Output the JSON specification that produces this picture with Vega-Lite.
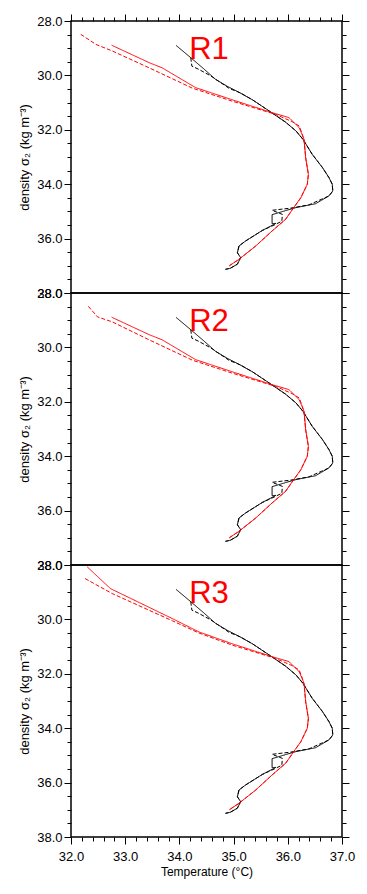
{
"$schema": "https://vega.github.io/schema/vega-lite/v6.json",
"padding": {"left": 17, "top": 12, "right": 5, "bottom": 5},
"spacing": 0,
"bounds": "flush",
"datasets": {
"lines": [
{"p":"all","c":"k","d":"solid","i":0,"T":33.94,"s":28.90},
{"p":"all","c":"k","d":"solid","i":1,"T":34.21,"s":29.35},
{"p":"all","c":"k","d":"solid","i":2,"T":34.45,"s":29.76},
{"p":"all","c":"k","d":"solid","i":3,"T":34.67,"s":30.15},
{"p":"all","c":"k","d":"solid","i":4,"T":34.90,"s":30.42},
{"p":"all","c":"k","d":"solid","i":5,"T":35.10,"s":30.62},
{"p":"all","c":"k","d":"solid","i":6,"T":35.35,"s":30.90},
{"p":"all","c":"k","d":"solid","i":7,"T":35.71,"s":31.38},
{"p":"all","c":"k","d":"solid","i":8,"T":35.96,"s":31.72},
{"p":"all","c":"k","d":"solid","i":9,"T":36.15,"s":32.04},
{"p":"all","c":"k","d":"solid","i":10,"T":36.28,"s":32.35},
{"p":"all","c":"k","d":"solid","i":11,"T":36.45,"s":32.90},
{"p":"all","c":"k","d":"solid","i":12,"T":36.64,"s":33.39},
{"p":"all","c":"k","d":"solid","i":13,"T":36.76,"s":33.76},
{"p":"all","c":"k","d":"solid","i":14,"T":36.82,"s":34.00},
{"p":"all","c":"k","d":"solid","i":15,"T":36.83,"s":34.25},
{"p":"all","c":"k","d":"solid","i":16,"T":36.76,"s":34.43},
{"p":"all","c":"k","d":"solid","i":17,"T":36.51,"s":34.72},
{"p":"all","c":"k","d":"solid","i":18,"T":36.15,"s":34.86},
{"p":"all","c":"k","d":"solid","i":19,"T":35.96,"s":34.97},
{"p":"all","c":"k","d":"solid","i":20,"T":35.71,"s":35.12},
{"p":"all","c":"k","d":"solid","i":21,"T":35.71,"s":35.45},
{"p":"all","c":"k","d":"solid","i":22,"T":35.78,"s":35.44},
{"p":"all","c":"k","d":"solid","i":23,"T":35.53,"s":35.70},
{"p":"all","c":"k","d":"solid","i":24,"T":35.22,"s":36.09},
{"p":"all","c":"k","d":"solid","i":25,"T":35.10,"s":36.27},
{"p":"all","c":"k","d":"solid","i":26,"T":35.07,"s":36.52},
{"p":"all","c":"k","d":"solid","i":27,"T":35.13,"s":36.70},
{"p":"all","c":"k","d":"solid","i":28,"T":35.07,"s":36.94},
{"p":"all","c":"k","d":"solid","i":29,"T":34.94,"s":37.09},
{"p":"all","c":"k","d":"solid","i":30,"T":34.85,"s":37.13},
{"p":"all","c":"k","d":"dash","i":0,"T":34.21,"s":29.35},
{"p":"all","c":"k","d":"dash","i":1,"T":34.23,"s":29.66},
{"p":"all","c":"k","d":"dash","i":2,"T":34.36,"s":29.78},
{"p":"all","c":"k","d":"dash","i":3,"T":34.58,"s":30.02},
{"p":"all","c":"k","d":"dash","i":4,"T":34.92,"s":30.48},
{"p":"all","c":"k","d":"dash","i":5,"T":35.12,"s":30.64},
{"p":"all","c":"k","d":"dash","i":6,"T":35.35,"s":30.90},
{"p":"all","c":"k","d":"dash","i":7,"T":35.71,"s":31.38},
{"p":"all","c":"k","d":"dash","i":8,"T":35.96,"s":31.72},
{"p":"all","c":"k","d":"dash","i":9,"T":36.15,"s":32.04},
{"p":"all","c":"k","d":"dash","i":10,"T":36.28,"s":32.35},
{"p":"all","c":"k","d":"dash","i":11,"T":36.45,"s":32.90},
{"p":"all","c":"k","d":"dash","i":12,"T":36.64,"s":33.39},
{"p":"all","c":"k","d":"dash","i":13,"T":36.76,"s":33.76},
{"p":"all","c":"k","d":"dash","i":14,"T":36.82,"s":34.00},
{"p":"all","c":"k","d":"dash","i":15,"T":36.83,"s":34.25},
{"p":"all","c":"k","d":"dash","i":16,"T":36.76,"s":34.43},
{"p":"all","c":"k","d":"dash","i":17,"T":36.39,"s":34.76},
{"p":"all","c":"k","d":"dash","i":18,"T":36.05,"s":34.88},
{"p":"all","c":"k","d":"dash","i":19,"T":35.71,"s":34.96},
{"p":"all","c":"k","d":"dash","i":20,"T":35.90,"s":35.11},
{"p":"all","c":"k","d":"dash","i":21,"T":35.89,"s":35.36},
{"p":"all","c":"k","d":"dash","i":22,"T":35.75,"s":35.50},
{"p":"all","c":"k","d":"dash","i":23,"T":35.53,"s":35.70},
{"p":"all","c":"k","d":"dash","i":24,"T":35.22,"s":36.09},
{"p":"all","c":"k","d":"dash","i":25,"T":35.10,"s":36.27},
{"p":"all","c":"k","d":"dash","i":26,"T":35.07,"s":36.52},
{"p":"all","c":"k","d":"dash","i":27,"T":35.13,"s":36.70},
{"p":"all","c":"k","d":"dash","i":28,"T":35.07,"s":36.94},
{"p":"all","c":"k","d":"dash","i":29,"T":34.94,"s":37.09},
{"p":"all","c":"k","d":"dash","i":30,"T":34.85,"s":37.13},

{"p":"1","c":"r","d":"solid","i":0,"T":32.75,"s":28.89},
{"p":"1","c":"r","d":"solid","i":1,"T":33.44,"s":29.53},
{"p":"1","c":"r","d":"solid","i":2,"T":33.68,"s":29.72},
{"p":"1","c":"r","d":"solid","i":3,"T":34.30,"s":30.45},
{"p":"1","c":"r","d":"solid","i":4,"T":34.98,"s":30.90},
{"p":"1","c":"r","d":"solid","i":5,"T":35.71,"s":31.37},
{"p":"1","c":"r","d":"solid","i":6,"T":36.02,"s":31.55},
{"p":"1","c":"r","d":"solid","i":7,"T":36.21,"s":31.92},
{"p":"1","c":"r","d":"solid","i":8,"T":36.30,"s":32.35},
{"p":"1","c":"r","d":"solid","i":9,"T":36.33,"s":33.03},
{"p":"1","c":"r","d":"solid","i":10,"T":36.38,"s":33.64},
{"p":"1","c":"r","d":"solid","i":11,"T":36.36,"s":34.00},
{"p":"1","c":"r","d":"solid","i":12,"T":36.24,"s":34.50},
{"p":"1","c":"r","d":"solid","i":13,"T":36.11,"s":34.86},
{"p":"1","c":"r","d":"solid","i":14,"T":35.96,"s":35.29},
{"p":"1","c":"r","d":"solid","i":15,"T":35.71,"s":35.72},
{"p":"1","c":"r","d":"solid","i":16,"T":35.41,"s":36.27},
{"p":"1","c":"r","d":"solid","i":17,"T":35.10,"s":36.76},
{"p":"1","c":"r","d":"solid","i":18,"T":34.92,"s":37.00},
{"p":"1","c":"r","d":"dash","i":0,"T":32.18,"s":28.49},
{"p":"1","c":"r","d":"dash","i":1,"T":32.46,"s":28.86},
{"p":"1","c":"r","d":"dash","i":2,"T":32.76,"s":29.10},
{"p":"1","c":"r","d":"dash","i":3,"T":33.44,"s":29.72},
{"p":"1","c":"r","d":"dash","i":4,"T":34.24,"s":30.47},
{"p":"1","c":"r","d":"dash","i":5,"T":34.98,"s":30.95},
{"p":"1","c":"r","d":"dash","i":6,"T":35.77,"s":31.43},
{"p":"1","c":"r","d":"dash","i":7,"T":36.08,"s":31.70},
{"p":"1","c":"r","d":"dash","i":8,"T":36.21,"s":31.86},
{"p":"1","c":"r","d":"dash","i":9,"T":36.27,"s":32.17},
{"p":"1","c":"r","d":"dash","i":10,"T":36.30,"s":32.40},
{"p":"1","c":"r","d":"dash","i":11,"T":36.33,"s":33.03},
{"p":"1","c":"r","d":"dash","i":12,"T":36.38,"s":33.64},
{"p":"1","c":"r","d":"dash","i":13,"T":36.36,"s":34.00},
{"p":"1","c":"r","d":"dash","i":14,"T":36.24,"s":34.50},
{"p":"1","c":"r","d":"dash","i":15,"T":36.11,"s":34.86},
{"p":"1","c":"r","d":"dash","i":16,"T":35.96,"s":35.29},
{"p":"1","c":"r","d":"dash","i":17,"T":35.71,"s":35.72},
{"p":"1","c":"r","d":"dash","i":18,"T":35.41,"s":36.27},
{"p":"1","c":"r","d":"dash","i":19,"T":35.10,"s":36.76},
{"p":"1","c":"r","d":"dash","i":20,"T":34.92,"s":37.00},

{"p":"2","c":"r","d":"solid","i":0,"T":32.75,"s":28.89},
{"p":"2","c":"r","d":"solid","i":1,"T":33.44,"s":29.53},
{"p":"2","c":"r","d":"solid","i":2,"T":33.68,"s":29.72},
{"p":"2","c":"r","d":"solid","i":3,"T":34.30,"s":30.45},
{"p":"2","c":"r","d":"solid","i":4,"T":34.98,"s":30.90},
{"p":"2","c":"r","d":"solid","i":5,"T":35.71,"s":31.37},
{"p":"2","c":"r","d":"solid","i":6,"T":36.02,"s":31.55},
{"p":"2","c":"r","d":"solid","i":7,"T":36.21,"s":31.92},
{"p":"2","c":"r","d":"solid","i":8,"T":36.30,"s":32.35},
{"p":"2","c":"r","d":"solid","i":9,"T":36.33,"s":33.03},
{"p":"2","c":"r","d":"solid","i":10,"T":36.38,"s":33.64},
{"p":"2","c":"r","d":"solid","i":11,"T":36.36,"s":34.00},
{"p":"2","c":"r","d":"solid","i":12,"T":36.24,"s":34.50},
{"p":"2","c":"r","d":"solid","i":13,"T":36.11,"s":34.86},
{"p":"2","c":"r","d":"solid","i":14,"T":35.96,"s":35.29},
{"p":"2","c":"r","d":"solid","i":15,"T":35.71,"s":35.72},
{"p":"2","c":"r","d":"solid","i":16,"T":35.41,"s":36.27},
{"p":"2","c":"r","d":"solid","i":17,"T":35.10,"s":36.76},
{"p":"2","c":"r","d":"solid","i":18,"T":34.92,"s":37.00},
{"p":"2","c":"r","d":"dash","i":0,"T":32.32,"s":28.49},
{"p":"2","c":"r","d":"dash","i":1,"T":32.49,"s":28.88},
{"p":"2","c":"r","d":"dash","i":2,"T":32.76,"s":29.06},
{"p":"2","c":"r","d":"dash","i":3,"T":33.44,"s":29.72},
{"p":"2","c":"r","d":"dash","i":4,"T":34.24,"s":30.47},
{"p":"2","c":"r","d":"dash","i":5,"T":34.98,"s":30.95},
{"p":"2","c":"r","d":"dash","i":6,"T":35.77,"s":31.43},
{"p":"2","c":"r","d":"dash","i":7,"T":36.08,"s":31.70},
{"p":"2","c":"r","d":"dash","i":8,"T":36.21,"s":31.86},
{"p":"2","c":"r","d":"dash","i":9,"T":36.27,"s":32.17},
{"p":"2","c":"r","d":"dash","i":10,"T":36.30,"s":32.40},
{"p":"2","c":"r","d":"dash","i":11,"T":36.33,"s":33.03},
{"p":"2","c":"r","d":"dash","i":12,"T":36.38,"s":33.64},
{"p":"2","c":"r","d":"dash","i":13,"T":36.36,"s":34.00},
{"p":"2","c":"r","d":"dash","i":14,"T":36.24,"s":34.50},
{"p":"2","c":"r","d":"dash","i":15,"T":36.11,"s":34.86},
{"p":"2","c":"r","d":"dash","i":16,"T":35.96,"s":35.29},
{"p":"2","c":"r","d":"dash","i":17,"T":35.71,"s":35.72},
{"p":"2","c":"r","d":"dash","i":18,"T":35.41,"s":36.27},
{"p":"2","c":"r","d":"dash","i":19,"T":35.10,"s":36.76},
{"p":"2","c":"r","d":"dash","i":20,"T":34.92,"s":37.00},

{"p":"3","c":"r","d":"solid","i":0,"T":32.30,"s":28.07},
{"p":"3","c":"r","d":"solid","i":1,"T":32.73,"s":28.87},
{"p":"3","c":"r","d":"solid","i":2,"T":33.87,"s":29.97},
{"p":"3","c":"r","d":"solid","i":3,"T":34.36,"s":30.46},
{"p":"3","c":"r","d":"solid","i":4,"T":34.98,"s":30.90},
{"p":"3","c":"r","d":"solid","i":5,"T":35.71,"s":31.37},
{"p":"3","c":"r","d":"solid","i":6,"T":36.02,"s":31.55},
{"p":"3","c":"r","d":"solid","i":7,"T":36.21,"s":31.92},
{"p":"3","c":"r","d":"solid","i":8,"T":36.30,"s":32.35},
{"p":"3","c":"r","d":"solid","i":9,"T":36.33,"s":33.03},
{"p":"3","c":"r","d":"solid","i":10,"T":36.38,"s":33.64},
{"p":"3","c":"r","d":"solid","i":11,"T":36.36,"s":34.00},
{"p":"3","c":"r","d":"solid","i":12,"T":36.24,"s":34.50},
{"p":"3","c":"r","d":"solid","i":13,"T":36.11,"s":34.86},
{"p":"3","c":"r","d":"solid","i":14,"T":35.96,"s":35.29},
{"p":"3","c":"r","d":"solid","i":15,"T":35.71,"s":35.72},
{"p":"3","c":"r","d":"solid","i":16,"T":35.41,"s":36.27},
{"p":"3","c":"r","d":"solid","i":17,"T":35.10,"s":36.76},
{"p":"3","c":"r","d":"solid","i":18,"T":34.92,"s":37.00},
{"p":"3","c":"r","d":"dash","i":0,"T":32.26,"s":28.50},
{"p":"3","c":"r","d":"dash","i":1,"T":32.76,"s":29.05},
{"p":"3","c":"r","d":"dash","i":2,"T":33.87,"s":30.05},
{"p":"3","c":"r","d":"dash","i":3,"T":34.36,"s":30.50},
{"p":"3","c":"r","d":"dash","i":4,"T":34.98,"s":30.95},
{"p":"3","c":"r","d":"dash","i":5,"T":35.77,"s":31.43},
{"p":"3","c":"r","d":"dash","i":6,"T":36.08,"s":31.70},
{"p":"3","c":"r","d":"dash","i":7,"T":36.21,"s":31.86},
{"p":"3","c":"r","d":"dash","i":8,"T":36.27,"s":32.17},
{"p":"3","c":"r","d":"dash","i":9,"T":36.30,"s":32.40},
{"p":"3","c":"r","d":"dash","i":10,"T":36.33,"s":33.03},
{"p":"3","c":"r","d":"dash","i":11,"T":36.38,"s":33.64},
{"p":"3","c":"r","d":"dash","i":12,"T":36.36,"s":34.00},
{"p":"3","c":"r","d":"dash","i":13,"T":36.24,"s":34.50},
{"p":"3","c":"r","d":"dash","i":14,"T":36.11,"s":34.86},
{"p":"3","c":"r","d":"dash","i":15,"T":35.96,"s":35.29},
{"p":"3","c":"r","d":"dash","i":16,"T":35.71,"s":35.72},
{"p":"3","c":"r","d":"dash","i":17,"T":35.41,"s":36.27},
{"p":"3","c":"r","d":"dash","i":18,"T":35.10,"s":36.76},
{"p":"3","c":"r","d":"dash","i":19,"T":34.92,"s":37.00}
],
"labels": [
{"p":"1","t":"R1","T":34.18,"s":29.38},
{"p":"2","t":"R2","T":34.18,"s":29.38},
{"p":"3","t":"R3","T":34.18,"s":29.38}
]
},
"vconcat": [
{
"width": 271, "height": 272,
"resolve": {"axis": {"x": "independent", "y": "independent"}},
"layer": [
{
"data": {"name": "lines"},
"transform": [{"filter": "datum.p == 'all' || datum.p == '1'"}],
"mark": {"type": "line", "strokeWidth": 1},
"encoding": {
"x": {"field": "T", "type": "quantitative", "scale": {"domain": [32, 37], "nice": false, "zero": false},
 "axis": {"orient": "top", "values": [32,32.2,32.4,32.6,32.8,33,33.2,33.4,33.6,33.8,34,34.2,34.4,34.6,34.8,35,35.2,35.4,35.6,35.8,36,36.2,36.4,36.6,36.8,37], "labels": false, "title": null,
 "tickSize": {"condition": {"test": "abs(datum.value - round(datum.value)) < 0.01", "value": 7}, "value": 4}}},
"y": {"field": "s", "type": "quantitative", "scale": {"domain": [28, 38], "nice": false, "zero": false, "reverse": true},
 "axis": {"orient": "left", "values": [28,28.5,29,29.5,30,30.5,31,31.5,32,32.5,33,33.5,34,34.5,35,35.5,36,36.5,37,37.5,38],
 "labelExpr": "abs(datum.value/2 - round(datum.value/2)) < 0.01 ? format(datum.value, '.1f') : ''",
 "tickSize": {"condition": {"test": "abs(datum.value/2 - round(datum.value/2)) < 0.01", "value": 7}, "value": 4},
 "labelPadding": 2, "title": "density σ₂ (kg m⁻³)", "titleFontSize": 13, "titlePadding": 5}},
"color": {"field": "c", "type": "nominal", "scale": {"domain": ["k", "r"], "range": ["#000000", "#ff0000"]}, "legend": null},
"strokeDash": {"field": "d", "type": "nominal", "scale": {"domain": ["solid", "dash"], "range": [[1, 0], [4, 2]]}, "legend": null},
"order": {"field": "i", "type": "quantitative"}
}
},
{
"data": {"name": "labels"},
"transform": [{"filter": "datum.p == '1'"}],
"mark": {"type": "text", "font": "Liberation Sans", "fontSize": 31, "color": "#ff0000", "align": "left", "baseline": "alphabetic"},
"encoding": {
"x": {"field": "T", "type": "quantitative", "scale": {"domain": [32, 37], "nice": false, "zero": false}, "axis": null},
"y": {"field": "s", "type": "quantitative", "scale": {"domain": [28, 38], "nice": false, "zero": false, "reverse": true},
 "axis": {"orient": "right", "values": [28,28.5,29,29.5,30,30.5,31,31.5,32,32.5,33,33.5,34,34.5,35,35.5,36,36.5,37,37.5,38], "labels": false, "title": null,
 "tickSize": {"condition": {"test": "abs(datum.value/2 - round(datum.value/2)) < 0.01", "value": 7}, "value": 4}}},
"text": {"field": "t"}
}
}
]
},
{
"width": 271, "height": 272,
"resolve": {"axis": {"x": "independent", "y": "independent"}},
"layer": [
{
"data": {"name": "lines"},
"transform": [{"filter": "datum.p == 'all' || datum.p == '2'"}],
"mark": {"type": "line", "strokeWidth": 1},
"encoding": {
"x": {"field": "T", "type": "quantitative", "scale": {"domain": [32, 37], "nice": false, "zero": false}, "axis": null},
"y": {"field": "s", "type": "quantitative", "scale": {"domain": [28, 38], "nice": false, "zero": false, "reverse": true},
 "axis": {"orient": "left", "values": [28,28.5,29,29.5,30,30.5,31,31.5,32,32.5,33,33.5,34,34.5,35,35.5,36,36.5,37,37.5,38],
 "labelExpr": "abs(datum.value/2 - round(datum.value/2)) < 0.01 ? format(datum.value, '.1f') : ''",
 "tickSize": {"condition": {"test": "abs(datum.value/2 - round(datum.value/2)) < 0.01", "value": 7}, "value": 4},
 "labelPadding": 2, "title": "density σ₂ (kg m⁻³)", "titleFontSize": 13, "titlePadding": 5}},
"color": {"field": "c", "type": "nominal", "scale": {"domain": ["k", "r"], "range": ["#000000", "#ff0000"]}, "legend": null},
"strokeDash": {"field": "d", "type": "nominal", "scale": {"domain": ["solid", "dash"], "range": [[1, 0], [4, 2]]}, "legend": null},
"order": {"field": "i", "type": "quantitative"}
}
},
{
"data": {"name": "labels"},
"transform": [{"filter": "datum.p == '2'"}],
"mark": {"type": "text", "font": "Liberation Sans", "fontSize": 31, "color": "#ff0000", "align": "left", "baseline": "alphabetic"},
"encoding": {
"x": {"field": "T", "type": "quantitative", "scale": {"domain": [32, 37], "nice": false, "zero": false}, "axis": null},
"y": {"field": "s", "type": "quantitative", "scale": {"domain": [28, 38], "nice": false, "zero": false, "reverse": true},
 "axis": {"orient": "right", "values": [28,28.5,29,29.5,30,30.5,31,31.5,32,32.5,33,33.5,34,34.5,35,35.5,36,36.5,37,37.5,38], "labels": false, "title": null,
 "tickSize": {"condition": {"test": "abs(datum.value/2 - round(datum.value/2)) < 0.01", "value": 7}, "value": 4}}},
"text": {"field": "t"}
}
}
]
},
{
"width": 271, "height": 272,
"resolve": {"axis": {"x": "independent", "y": "independent"}},
"layer": [
{
"data": {"name": "lines"},
"transform": [{"filter": "datum.p == 'all' || datum.p == '3'"}],
"mark": {"type": "line", "strokeWidth": 1},
"encoding": {
"x": {"field": "T", "type": "quantitative", "scale": {"domain": [32, 37], "nice": false, "zero": false},
 "axis": {"orient": "bottom", "values": [32,32.2,32.4,32.6,32.8,33,33.2,33.4,33.6,33.8,34,34.2,34.4,34.6,34.8,35,35.2,35.4,35.6,35.8,36,36.2,36.4,36.6,36.8,37],
 "labelExpr": "abs(datum.value - round(datum.value)) < 0.01 ? format(datum.value, '.1f') : ''",
 "tickSize": {"condition": {"test": "abs(datum.value - round(datum.value)) < 0.01", "value": 7}, "value": 4},
 "labelPadding": 6, "title": "Temperature (°C)", "titlePadding": 3}},
"y": {"field": "s", "type": "quantitative", "scale": {"domain": [28, 38], "nice": false, "zero": false, "reverse": true},
 "axis": {"orient": "left", "values": [28,28.5,29,29.5,30,30.5,31,31.5,32,32.5,33,33.5,34,34.5,35,35.5,36,36.5,37,37.5,38],
 "labelExpr": "abs(datum.value/2 - round(datum.value/2)) < 0.01 ? format(datum.value, '.1f') : ''",
 "tickSize": {"condition": {"test": "abs(datum.value/2 - round(datum.value/2)) < 0.01", "value": 7}, "value": 4},
 "labelPadding": 2, "title": "density σ₂ (kg m⁻³)", "titleFontSize": 13, "titlePadding": 5}},
"color": {"field": "c", "type": "nominal", "scale": {"domain": ["k", "r"], "range": ["#000000", "#ff0000"]}, "legend": null},
"strokeDash": {"field": "d", "type": "nominal", "scale": {"domain": ["solid", "dash"], "range": [[1, 0], [4, 2]]}, "legend": null},
"order": {"field": "i", "type": "quantitative"}
}
},
{
"data": {"name": "labels"},
"transform": [{"filter": "datum.p == '3'"}],
"mark": {"type": "text", "font": "Liberation Sans", "fontSize": 31, "color": "#ff0000", "align": "left", "baseline": "alphabetic"},
"encoding": {
"x": {"field": "T", "type": "quantitative", "scale": {"domain": [32, 37], "nice": false, "zero": false}, "axis": null},
"y": {"field": "s", "type": "quantitative", "scale": {"domain": [28, 38], "nice": false, "zero": false, "reverse": true},
 "axis": {"orient": "right", "values": [28,28.5,29,29.5,30,30.5,31,31.5,32,32.5,33,33.5,34,34.5,35,35.5,36,36.5,37,37.5,38], "labels": false, "title": null,
 "tickSize": {"condition": {"test": "abs(datum.value/2 - round(datum.value/2)) < 0.01", "value": 7}, "value": 4}}},
"text": {"field": "t"}
}
}
]
}
],
"config": {
"view": {"stroke": "#000000", "strokeWidth": 1.5},
"axis": {"domain": false, "grid": false, "tickColor": "#000000", "tickWidth": 1, "labelFont": "Liberation Sans", "labelFontSize": 13, "labelColor": "#000000", "titleFont": "Liberation Sans", "titleFontSize": 12, "titleFontWeight": "normal", "titleColor": "#000000", "labelOverlap": false, "labelFlush": false}
}
}
